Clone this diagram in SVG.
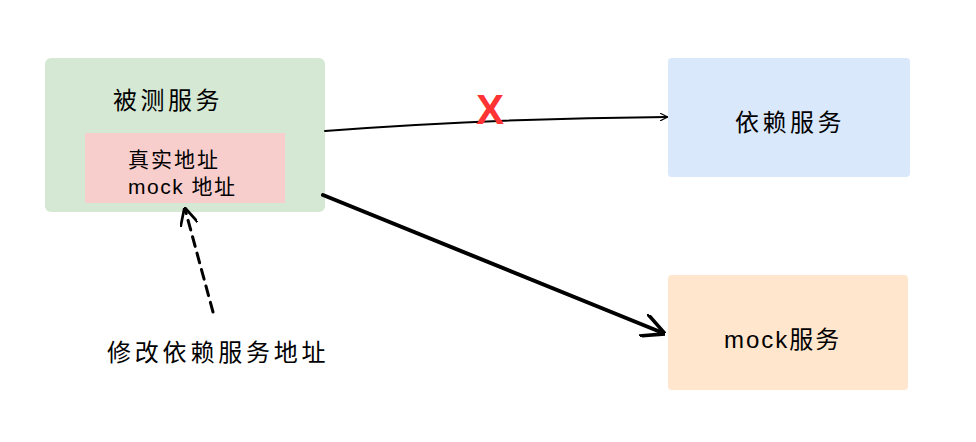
<svg xmlns="http://www.w3.org/2000/svg" width="976" height="442" viewBox="0 0 976 442">
<style>
text{font-family:"Liberation Sans","Noto Sans CJK SC",sans-serif;fill:#000}
.c{fill:none;stroke:#000;stroke-linecap:round}
</style>
<defs>
<marker id="a" viewBox="0 0 10 10" refX="9" refY="5" markerWidth="8" markerHeight="8" markerUnits="userSpaceOnUse" orient="auto"><path d="M0,0 L10,5 L0,10" fill="none" stroke="#000" stroke-width="1.5"/></marker>
<marker id="b" viewBox="0 0 10 10" refX="9" refY="5" markerWidth="6" markerHeight="6" orient="auto"><path d="M0,0 L10,5 L0,10" fill="none" stroke="#000" stroke-width="1.5"/></marker>
</defs>
<rect width="976" height="442" fill="#fff"/>
<g id="tested"><rect x="45" y="58" width="280" height="154" rx="6" fill="#d5e8d4"/><text x="113" y="109" font-size="24" letter-spacing="3.5">被测服务</text></g>
<g id="addr"><rect x="85" y="133" width="200" height="70" fill="#f8cecc"/><text x="128" y="167" font-size="21" letter-spacing="2">真实地址</text><text x="128" y="194" font-size="21" letter-spacing="1.5">mock 地址</text></g>
<g id="dep"><rect x="668" y="58" width="242" height="119" rx="4" fill="#dae8fc"/><text x="735" y="131" font-size="24" letter-spacing="3.5">依赖服务</text></g>
<g id="mock"><rect x="668" y="275" width="240" height="115" rx="4" fill="#ffe6cc"/><text x="724" y="348" font-size="24" letter-spacing="2">mock服务</text></g>
<g id="label"><text x="107" y="361" font-size="24" letter-spacing="3.8">修改依赖服务地址</text></g>
<g id="connectors">
<path class="c" d="M325,131 Q500,118 667,117" stroke-width="2" marker-end="url(#a)"/>
<path class="c" d="M323,195 L663,333" stroke-width="4" marker-end="url(#b)"/>
<path class="c" d="M213,312 L185,209" stroke-width="3" stroke-dasharray="10,7" marker-end="url(#b)"/>
</g>
<text x="476" y="124" font-size="42" font-weight="bold" style="fill:#ff3333">X</text>
</svg>
